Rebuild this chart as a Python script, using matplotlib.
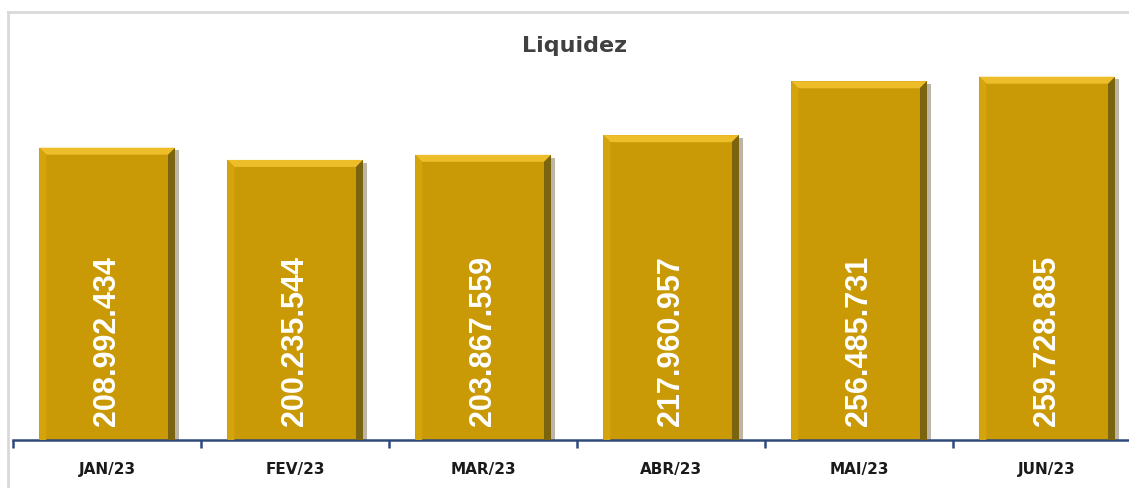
import matplotlib
matplotlib.use("Agg")
import matplotlib.pyplot as plt
from matplotlib.patches import Polygon
from matplotlib.lines import Line2D
import matplotlib.patheffects as pe

# data
months = ["JAN/23", "FEV/23", "MAR/23", "ABR/23", "MAI/23", "JUN/23"]
liquidez = [208992434, 200235544, 203867559, 217960957, 256485731, 259728885]
labels = ["208.992.434", "200.235.544", "203.867.559",
          "217.960.957", "256.485.731", "259.728.885"]

W, H = 1129, 489
fig = plt.figure(figsize=(W / 100, H / 100), dpi=100)

# light gray frame (cropped on the right and bottom)
fig.add_artist(Line2D([8 / W, 8 / W], [0, 1 - 13 / H], transform=fig.transFigure,
                      color="#d9d9d9", lw=2))
fig.add_artist(Line2D([8 / W, 1], [1 - 13 / H, 1 - 13 / H], transform=fig.transFigure,
                      color="#d9d9d9", lw=2))

ax = fig.add_axes([13 / W, 48 / H, 6 * 188 / W, 428 / H])
x = range(len(months))
bars = ax.bar(x, liquidez, width=0.72, color="#C99A06", zorder=2,
              path_effects=[pe.SimplePatchShadow(offset=(3, -2), alpha=0.35),
                            pe.Normal()])
ax.set_xlim(-0.5, len(months) - 0.5)
ax.set_ylim(0, 306e6)

for s in ["top", "right", "left"]:
    ax.spines[s].set_visible(False)
ax.spines["bottom"].set_color("#2F4A7A")
ax.spines["bottom"].set_linewidth(1.8)
ax.set_yticks([])
ax.set_xticks(list(x))
ax.set_xticklabels(months, fontweight="bold", fontsize=11, color="#1a1a1a")
ax.tick_params(axis="x", which="major", length=0, pad=15)
ax.set_xticks([i - 0.5 for i in range(len(months) + 1)], minor=True)
ax.tick_params(axis="x", which="minor", length=6, width=1.8, color="#2F4A7A")

fig.text(575 / W, 1 - 46 / H, "Liquidez", ha="center", va="center",
         fontsize=16, fontweight="bold", color="#404040")

# bevel on each bar
fig.canvas.draw()
inv = fig.transFigure.inverted()
b = 7
for bar in bars:
    x0, y0, x1, y1 = bar.get_window_extent().extents
    faces = [
        ([(x0, y1), (x1, y1), (x1 - b, y1 - b), (x0 + b, y1 - b)], "#EDBD2A"),
        ([(x1, y1), (x1, y0), (x1 - b, y0), (x1 - b, y1 - b)], "#7A6410"),
        ([(x0, y1), (x0 + b, y1 - b), (x0 + b, y0), (x0, y0)], "#D3A40C"),
    ]
    for pts, col in faces:
        fig.add_artist(Polygon(inv.transform(pts), closed=True, facecolor=col,
                               edgecolor="none", transform=fig.transFigure, zorder=3))

for i, (v, lab) in enumerate(zip(liquidez, labels)):
    ax.text(i, 306e6 * 15 / 428, lab, rotation=90, ha="center", va="bottom",
            fontsize=22, fontweight="bold", color="white",
            family=["Liberation Sans", "DejaVu Sans"], zorder=4)

fig.savefig("out.png", dpi=100)
